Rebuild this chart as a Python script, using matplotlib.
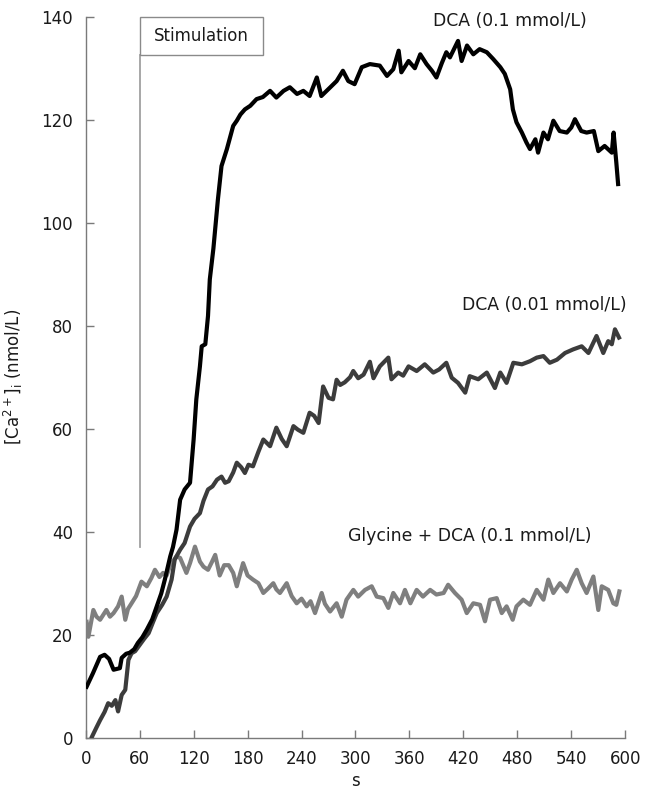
import matplotlib
matplotlib.use("Agg")
import matplotlib.pyplot as plt
from matplotlib.patches import Rectangle

# ---------------- data ----------------
x_ticks = [0, 60, 120, 180, 240, 300, 360, 420, 480, 540, 600]
y_ticks = [0, 20, 40, 60, 80, 100, 120, 140]

t_dca01 = [1, 8, 16, 21, 26, 31, 38, 40, 45, 49,
           54, 58, 63, 68, 74, 79, 84, 88, 94, 97,
           101, 105, 110, 116, 120, 123, 127, 129, 133, 136,
           138, 142, 147, 151, 157, 164, 168, 172, 177, 183,
           190, 197, 205, 212, 220, 227, 235, 242, 249, 257,
           262, 272, 279, 286, 292, 299, 307, 316, 327, 335,
           342, 348, 351, 359, 366, 372, 379, 385, 390, 396,
           401, 405, 414, 418, 424, 431, 438, 446, 453, 461,
           466, 472, 475, 479, 485, 490, 494, 500, 503, 509,
           514, 520, 527, 535, 540, 544, 551, 557, 565, 570,
           577, 585, 587, 590, 592]
v_dca01 = [9.9, 12.5, 15.7, 16.1, 15.3, 13.2, 13.5, 15.5, 16.3, 16.5,
           17.2, 18.4, 19.5, 21, 23, 25.5, 28, 30.7, 35.2, 37,
           40.4, 46.2, 48.2, 49.5, 57.9, 65.7, 72.1, 76, 76.4, 81.9,
           89, 95, 104.5, 111, 114.3, 118.8, 119.8, 121, 122, 122.7,
           124, 124.4, 125.6, 124.3, 125.6, 126.3, 125, 125.6, 124.6, 128.2,
           124.6, 126.3, 127.5, 129.5, 127.5, 126.9, 130.2, 130.8, 130.5, 128.5,
           129.8, 133.4, 129.2, 131.4, 130, 132.7, 130.8, 129.5, 128.2, 131,
           133.1, 132.1, 135.3, 131.4, 134.4, 132.7, 133.7, 133.1, 131.8, 130.2,
           128.9, 125.9, 122, 119.5, 117.5, 115.6, 114.3, 116.2, 113.6, 117.5,
           116.2, 119.8, 117.8, 117.5, 118.5, 120.1, 117.8, 117.5, 117.8, 113.9,
           114.9, 113.6, 117.5, 111.7, 107.5]

t_dca001 = [7, 12, 16, 21, 25, 29, 33, 36, 40, 44,
            47.5, 51, 55, 60, 65, 70, 75, 79, 85, 90,
            95.5, 99, 105, 110, 116, 121, 127, 131, 136, 141,
            146, 151, 155, 159, 164, 168, 173, 177, 181, 186,
            192, 197.5, 205, 212, 218, 223.5, 231, 236, 242, 249,
            254, 259, 264, 270, 275, 279, 283, 288, 294, 297.5,
            303, 309, 316, 320, 327, 336.5, 340, 347.5, 353, 359,
            368, 377, 386.5, 393, 401, 407, 414, 422, 427, 436.5,
            446, 455, 461, 468, 475.5, 485, 494, 501.5, 509, 516,
            524, 533, 542, 551.5, 559, 568, 575.5, 581, 585, 588.5,
            593]
v_dca001 = [0.2, 2.0, 3.4, 5.0, 6.7, 6.2, 7.3, 5.1, 8.3, 9.3,
            15.1, 16.4, 16.8, 18, 19.2, 20.3, 22.5, 24.2, 25.8, 27.4,
            30.7, 34.6, 36.5, 37.8, 41, 42.5, 43.6, 46, 48.2, 48.8,
            50.1, 50.7, 49.5, 49.8, 51.5, 53.4, 52.5, 51.4, 53, 52.7,
            55.5, 57.9, 56.6, 60.2, 58, 56.6, 60.5, 59.8, 59.2, 63.1,
            62.5, 61.1, 68.2, 66, 65.7, 69.5, 68.5, 69, 70, 71.2,
            69.8, 70.5, 73, 69.8, 72.1, 73.8, 69.6, 70.9, 70.3, 72.1,
            71.2, 72.5, 70.9, 71.5, 72.8, 69.9, 68.9, 67, 70.2, 69.6,
            70.9, 67.9, 70.9, 68.9, 72.8, 72.5, 73.1, 73.8, 74.1, 72.8,
            73.4, 74.7, 75.4, 76, 74.7, 78, 74.7, 77, 76.4, 79.3,
            77.7]

t_gly = [1, 3, 8.5, 12, 16, 23, 27, 31, 36, 40,
         44, 47, 51, 56, 62, 68, 73, 77, 82, 86,
         90, 94, 101, 105, 112, 116, 121.5, 127, 131, 136,
         140, 144, 149, 154, 159, 164, 168, 172, 175, 180,
         186, 192, 197.5, 203, 208.6, 212, 216, 223.5, 229, 234.6,
         240, 245.7, 250, 255, 262.4, 266, 271.7, 279, 284.7, 290,
         297.6, 303, 310.6, 318, 323.6, 331, 336.5, 342, 349.5, 355,
         361, 368, 375, 383, 390, 398, 403, 410.6, 418, 423.7,
         431, 438.5, 444, 449.6, 457, 462.6, 468, 474.8, 479, 486.6,
         494, 501.5, 509, 514.4, 520, 527.4, 535, 540.4, 546, 551.5,
         557, 564.5, 570, 573.8, 581, 586.7, 590, 593.4]
v_gly = [22.5, 19.6, 24.8, 23.5, 22.9, 24.8, 23.5, 24.2, 25.5, 27.4,
         22.9, 25, 26.1, 27.5, 30.3, 29.4, 31, 32.6, 31.2, 32,
         31.5, 33.5, 35.2, 34.9, 32, 33.9, 37.1, 34.2, 33.2, 32.6,
         34, 35.5, 31.5, 33.5, 33.5, 32, 29.4, 32, 33.9, 31.5,
         30.7, 30, 28.1, 29, 30, 28.8, 28.1, 30, 27.5, 26.1,
         27, 25.5, 26.5, 24.2, 28.1, 26, 24.5, 26.1, 23.5, 26.8,
         28.7, 27.4, 28.7, 29.4, 27.4, 27.1, 25.2, 28.1, 26.1, 28.7,
         26.1, 28.7, 27.4, 28.7, 27.8, 28.1, 29.7, 28.1, 26.8, 24.2,
         26.1, 25.8, 22.6, 26.8, 27.1, 24.2, 25.5, 22.9, 25.5, 26.8,
         25.8, 28.7, 26.8, 30.7, 28.1, 30, 28.4, 30.7, 32.6, 30,
         28.1, 31.3, 24.8, 29.4, 28.7, 26.1, 25.8, 28.4]

label_dca01 = "DCA (0.1 mmol/L)"
label_dca001 = "DCA (0.01 mmol/L)"
label_gly = "Glycine + DCA (0.1 mmol/L)"
stim_label = "Stimulation"
stim_time = 60

# ---------------- figure ----------------
plt.rcParams['font.family'] = ['DejaVu Sans']
fig = plt.figure(figsize=(6.55, 7.94), dpi=100)
ax = fig.add_axes([85.7 / 655, 1 - 737.7 / 794, (625.3 - 85.7) / 655, (737.7 - 16.7) / 794])

ax.plot(t_gly, v_gly, color='#7f7f7f', lw=3.0, solid_joinstyle='round', zorder=3)
ax.plot(t_dca001, v_dca001, color='#3c3c3c', lw=3.0, solid_joinstyle='round', zorder=4)
ax.plot(t_dca01, v_dca01, color='#000000', lw=3.0, solid_joinstyle='round', zorder=5)

ax.set_xlim(0, 600)
ax.set_ylim(0, 140)
ax.set_xticks(x_ticks)
ax.set_yticks(y_ticks)

spine_c = '#7a7a7a'
for s in ['top', 'right']:
    ax.spines[s].set_visible(False)
for s in ['left', 'bottom']:
    ax.spines[s].set_color(spine_c)
    ax.spines[s].set_linewidth(1.0)
ax.tick_params(direction='in', length=6, width=1.0, color=spine_c,
               labelsize=12, labelcolor='#1a1a1a', pad=9)

ax.set_xlabel('s', fontsize=12, color='#1a1a1a', labelpad=3)
ax.set_ylabel(r'[Ca$^{2+}$]$_\mathrm{i}$ (nmol/L)', fontsize=12, color='#1a1a1a', labelpad=12)

# stimulation marker
ax.plot([stim_time, stim_time], [37, 132.5], color='#a0a0a0', lw=1.3, zorder=2)
ax.add_patch(Rectangle((stim_time, 132.5), 137, 7.5, fill=False, edgecolor='#8a8a8a',
                       lw=1.0, clip_on=False, zorder=2))
ax.text(stim_time + 68.5, 136.3, stim_label, ha='center', va='center', fontsize=12,
        color='#1a1a1a')

# curve labels
ax.text(472, 139.2, label_dca01, ha='center', va='center', fontsize=12.4, color='#1a1a1a')
ax.text(510, 84.1, label_dca001, ha='center', va='center', fontsize=12.4, color='#1a1a1a')
ax.text(427, 39.1, label_gly, ha='center', va='center', fontsize=12.4, color='#1a1a1a')

fig.savefig('out.png', dpi=100)
